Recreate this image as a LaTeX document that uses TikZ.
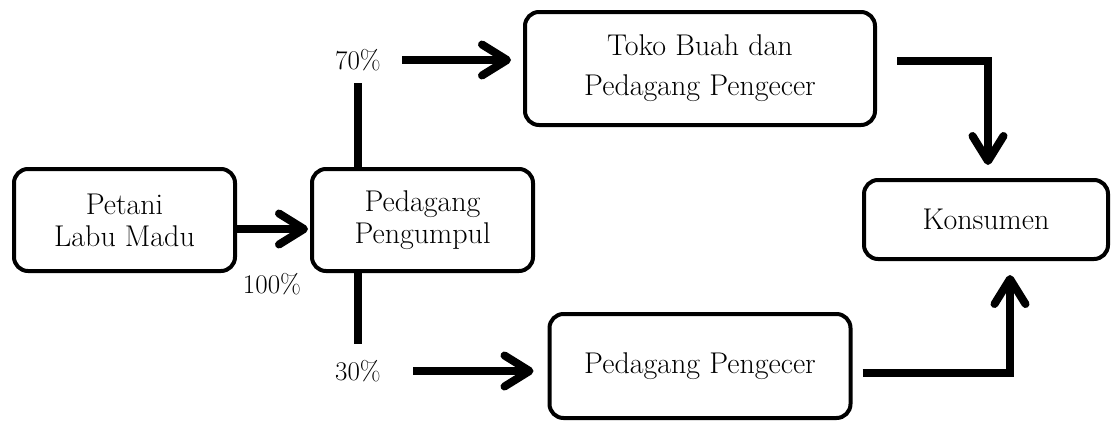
\documentclass[tikz,border=0pt]{standalone}
\usepackage{tikz}
\usetikzlibrary{arrows.meta, positioning}

\begin{document}
\begin{tikzpicture}[x=1pt, y=-1pt, >={Straight Barb[length=25pt, width=31pt, round]}, font=\fontsize{30}{32}\selectfont]
    \tikzstyle{box} = [draw, rectangle, rounded corners=14pt, line width=4pt, align=center, inner sep=0pt]
    \tikzstyle{flow} = [line width=8pt]
    \tikzstyle{pct} = [font=\fontsize{27}{32}\selectfont, inner xsep=21pt, inner ysep=12pt]

    \fill[white] (0,0) rectangle (1113,423);
    \useasboundingbox (0,0) rectangle (1113,423);

    \node [box, minimum width=221pt, minimum height=102pt] (petani) at (124.5,220) {Petani\\Labu Madu};
    \node [box, minimum width=221pt, minimum height=102pt, right=73pt of petani] (pengumpul) {Pedagang\\Pengumpul};
    \node [box, minimum width=350pt, minimum height=113pt] (toko) at (700,68.5) {Toko Buah dan\\[8pt]Pedagang Pengecer};
    \node [box, minimum width=301pt, minimum height=104pt, below=185pt of toko] (pengecer) {Pedagang Pengecer};
    \node [box, minimum width=244pt, minimum height=79pt] (konsumen) at (986,219.5) {Konsumen};

    \node [pct] (p70) at (358,60) {70\%};
    \node [pct, inner xsep=32pt, inner ysep=16pt] (p30) at (358,371) {30\%};
    \node [pct, inner sep=0pt] (p100) at (272,284) {100\%};

    \draw [flow, ->, shorten >=2pt] ([yshift=-9pt]petani.east) -- ([yshift=-9pt]pengumpul.west);
    \draw [flow] (pengumpul.north -| p70) -- (p70.south);
    \draw [flow] (pengumpul.south -| p30) -- (p30.north);
    \draw [flow, ->, shorten >=12pt] (p70.east) -- (p70.east -| toko.west);
    \draw [flow, ->, shorten >=14pt] (p30.east) -- (p30.east -| pengecer.west);
    \draw [flow, ->, shorten <=20pt, shorten >=13pt] ([yshift=8pt]toko.east) -| ([xshift=2pt]konsumen.north);
    \draw [flow, ->, shorten <=10pt, shorten >=14pt] ([yshift=-7pt]pengecer.east) -| ([xshift=24pt]konsumen.south);
\end{tikzpicture}
\end{document}
